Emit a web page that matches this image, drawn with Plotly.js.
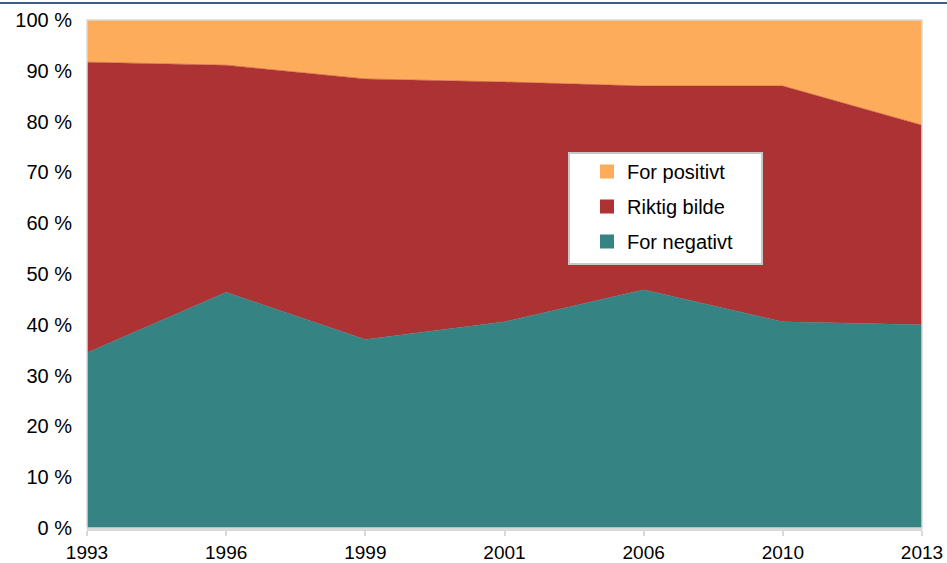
<!DOCTYPE html>
<html>
<head>
<meta charset="utf-8">
<script src="https://cdn.plot.ly/plotly-3.0.1.min.js"></script>
<style>
html,body{margin:0;padding:0;background:#fff;}
#chart{width:947px;height:563px;}
</style>
</head>
<body>
<div id="chart"></div>
<script>
const years = ['1993','1996','1999','2001','2006','2010','2013'];
const forNegativt = [34.5, 46.4, 37.1, 40.6, 46.9, 40.6, 40.0];
const riktigBilde = [57.2, 44.7, 51.3, 47.2, 40.1, 46.4, 39.3];
const forPositivt = [8.3, 8.9, 11.6, 12.2, 13.0, 13.0, 20.7];
const yTicks = [0,10,20,30,40,50,60,70,80,90,100];
const yTickText = yTicks.map(v => v + ' %');

const colors = {neg:'#358383', rik:'#AD3233', pos:'#FDAC5B'};

const area = (name, y, color) => ({
  type:'scatter', mode:'lines', x: years, y: y, name: name,
  stackgroup:'one', showlegend:false,
  line:{width:0.5, color:color}, fillcolor:color
});
const leg = (name, color, rank, g) => ({
  type:'scatter', mode:'markers', x:[years[0]], y:[null], name:name,
  legendgroup:g, legendrank:rank, showlegend:true,
  marker:{symbol:'square', size:14, color:color}
});

const traces = [
  area('For negativt', forNegativt, colors.neg),
  area('Riktig bilde', riktigBilde, colors.rik),
  area('For positivt', forPositivt, colors.pos),
  leg('For positivt', colors.pos, 1, 'c'),
  leg('Riktig bilde', colors.rik, 2, 'b'),
  leg('For negativt', colors.neg, 3, 'a')
];

const L=87, R=25, T=20, B=35, W=947, H=563;
const pw = W-L-R, ph = H-T-B;
const px = v => (v-L)/pw;
const py = v => (H-B-v)/ph;

const layout = {
  width:W, height:H,
  margin:{l:L, r:R, t:T, b:B, pad:0},
  paper_bgcolor:'#fff', plot_bgcolor:'#fff',
  font:{family:'Liberation Sans, Arial, sans-serif', color:'#000'},
  showlegend:true,
  legend:{
    x:px(587), y:py(152), xanchor:'left', yanchor:'top',
    bgcolor:'rgba(0,0,0,0)', borderwidth:0,
    font:{size:20, color:'#000'}, traceorder:'grouped',
    tracegroupgap:6
  },
  xaxis:{
    type:'category', range:[0,6], showgrid:false, zeroline:false,
    showline:true, linecolor:'#d9d9d9', linewidth:3,
    ticks:'outside', ticklen:5, tickwidth:2, tickcolor:'#d9d9d9',
    tickfont:{size:19, color:'#000'}, fixedrange:true
  },
  yaxis:{
    range:[0,100], tickvals:yTicks, ticktext:yTickText,
    showgrid:false, zeroline:false, showline:false,
    ticks:'', ticklabelstandoff:14,
    tickfont:{size:20, color:'#000'}, fixedrange:true
  },
  shapes:[
    {type:'rect', xref:'paper', yref:'paper', x0:0, x1:1, y0:0, y1:1,
     line:{color:'#d9d9d9', width:1.5}, layer:'above'},
    {type:'rect', xref:'paper', yref:'paper', x0:px(569), x1:px(762),
     y0:py(264), y1:py(153), fillcolor:'#fff',
     line:{color:'#c8c8c8', width:2}, layer:'above'},
    {type:'line', xref:'paper', yref:'paper', x0:-L/pw, x1:(W-L)/pw,
     y0:py(3), y1:py(3), line:{color:'#3E5A8A', width:2}}
  ]
};

Plotly.newPlot('chart', traces, layout, {displayModeBar:false, staticPlot:true});
</script>
</body>
</html>
